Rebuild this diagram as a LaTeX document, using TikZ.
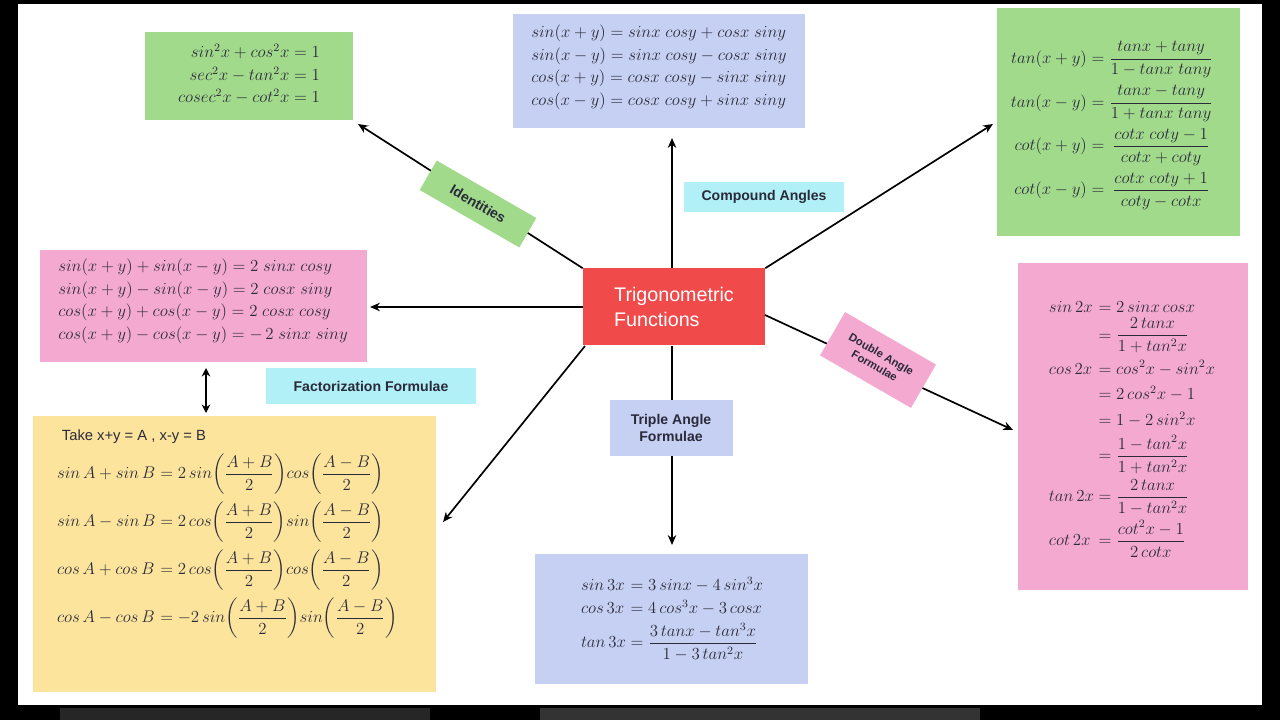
\documentclass[tikz,border=0pt]{standalone}
\usepackage{amsmath}
\usepackage{fontspec}
\setsansfont{Liberation Sans}
\usetikzlibrary{arrows.meta}
\definecolor{gbox}{HTML}{A2DA8C}
\definecolor{bbox}{HTML}{C6D0F2}
\definecolor{pbox}{HTML}{F4A9D0}
\definecolor{ybox}{HTML}{FCE49C}
\definecolor{cbox}{HTML}{B0F0F6}
\definecolor{rbox}{HTML}{F04A4A}
\definecolor{ink}{HTML}{2A2A3A}
\tikzset{
 fbox/.style={inner sep=0pt,outer sep=0pt},
 lab/.style={font=\sffamily\bfseries\fontsize{10}{12}\selectfont,text=ink,align=center},
 conn/.style={-{Stealth[length=7pt,width=6pt]},line width=1.2pt},
 ftxt/.style={font=\fontsize{12}{16}\selectfont,text=ink,align=left},
}
\begin{document}
\begin{tikzpicture}[x=0.025cm,y=-0.025cm]
\useasboundingbox (0,0) rectangle (1280,720);
\fill[black] (0,0) rectangle (1280,720);
\fill[white] (18,4) rectangle (1262,705);
\fill[black!85] (60,708) rectangle (430,720);
\fill[black!80] (540,708) rectangle (980,720);
% boxes
\fill[gbox] (145,32) rectangle (353,120);
\fill[bbox] (513,14) rectangle (805,128);
\fill[gbox] (997,8) rectangle (1240,236);
\fill[pbox] (40,250) rectangle (367,362);
\fill[ybox] (33,416) rectangle (436,692);
\fill[bbox] (535,554) rectangle (808,684);
\fill[pbox] (1018,263) rectangle (1248,590);
\node[fbox,ftxt] (id) at (249,76) {$\begin{array}{@{}r@{}}
sin^2x+cos^2x=1\\ sec^2x-tan^2x=1\\ cosec^2x-cot^2x=1\end{array}$};
\node[fbox,ftxt] (cp) at (659,67) {$\begin{array}{@{}l@{}}
sin(x+y)=sinx\;cosy+cosx\;siny\\
sin(x-y)=sinx\;cosy-cosx\;siny\\
cos(x+y)=cosx\;cosy-sinx\;siny\\
cos(x-y)=cosx\;cosy+sinx\;siny\end{array}$};
\node[fbox,ftxt,font=\fontsize{11.5}{14}\selectfont] (tn) at (1112,122) {$\renewcommand\arraystretch{2.1}\begin{array}{@{}r@{\;}c@{\;}c@{}}
tan(x+y)&=&\dfrac{tanx+tany}{1-tanx\;tany}\\
tan(x-y)&=&\dfrac{tanx-tany}{1+tanx\;tany}\\
cot(x+y)&=&\dfrac{cotx\;coty-1}{cotx+coty}\\
cot(x-y)&=&\dfrac{cotx\;coty+1}{coty-cotx}\end{array}$};
\node[fbox,ftxt] (fz) at (203,301) {$\begin{array}{@{}l@{}}
sin(x+y)+sin(x-y)=2\;sinx\;cosy\\
sin(x+y)-sin(x-y)=2\;cosx\;siny\\
cos(x+y)+cos(x-y)=2\;cosx\;cosy\\
cos(x+y)-cos(x-y)=-\,2\;sinx\;siny\end{array}$};
\node[ftxt,anchor=west,font=\sffamily\fontsize{10.5}{12}\selectfont] (tk) at (57,437) {Take x+y = A , x-y = B};
\node[fbox,ftxt,anchor=north west] (yl) at (57,454) {$\begin{array}{@{}l@{\;}r@{\;}l@{}}
sin\,A+sin\,B&=&2\,sin\!\left(\dfrac{A+B}{2}\right)\!cos\!\left(\dfrac{A-B}{2}\right)\\[12pt]
sin\,A-sin\,B&=&2\,cos\!\left(\dfrac{A+B}{2}\right)\!sin\!\left(\dfrac{A-B}{2}\right)\\[12pt]
cos\,A+cos\,B&=&2\,cos\!\left(\dfrac{A+B}{2}\right)\!cos\!\left(\dfrac{A-B}{2}\right)\\[12pt]
cos\,A-cos\,B&=&-2\,sin\!\left(\dfrac{A+B}{2}\right)\!sin\!\left(\dfrac{A-B}{2}\right)\end{array}$};
\node[fbox,ftxt] (tr) at (672,618) {$\begin{array}{@{}l@{\;}c@{\;}l@{}}
sin\,3x&=&3\,sinx-4\,sin^3x\\
cos\,3x&=&4\,cos^3x-3\,cosx\\[2pt]
tan\,3x&=&\dfrac{3\,tanx-tan^3x}{1-3\,tan^2x}\end{array}$};
\node[fbox,ftxt,font=\fontsize{11.5}{14}\selectfont] (db) at (1132,426) {$\renewcommand\arraystretch{1.3}\begin{array}{@{}l@{\;}c@{\;}l@{}}
sin\,2x&=&2\,sinx\,cosx\\[-2pt]
&=&\dfrac{2\,tanx}{1+tan^2x}\\[6pt]
cos\,2x&=&cos^2x-sin^2x\\
&=&2\,cos^2x-1\\
&=&1-2\,sin^2x\\[2pt]
&=&\dfrac{1-tan^2x}{1+tan^2x}\\[8pt]
tan\,2x&=&\dfrac{2\,tanx}{1-tan^2x}\\[8pt]
cot\,2x&=&\dfrac{cot^2x-1}{2\,cotx}\end{array}$};
% centre
\node[fill=rbox,minimum width=182*0.025cm,minimum height=77*0.025cm,text=white,align=left,
 font=\sffamily\fontsize{14}{18}\selectfont,inner sep=0pt] (c) at (674,307) {Trigonometric\\Functions};
% connectors
\coordinate (eid) at (358,124);
\coordinate (ecp) at (672,138);
\coordinate (etn) at (993,124);
\coordinate (efz) at (370,307);
\coordinate (eyl) at (443,522);
\coordinate (etr) at (672,545);
\coordinate (edb) at (1013,430);
\draw[conn] (c.north west) -- (eid);
\draw[conn] (c.north -| ecp) -- (ecp);
\draw[conn] (c.north east) -- (etn);
\draw[conn] (c.west) -- (efz);
\draw[conn] (585,346) -- (eyl);
\draw[conn] (c.south -| etr) -- (etr);
\draw[conn] (765,315) -- (edb);
\coordinate (d1) at (206,368); \coordinate (d2) at (206,413);
\draw[{Stealth[length=6pt,width=6pt]}-{Stealth[length=6pt,width=6pt]},line width=1.2pt] (d1) -- (d2);
% labels
\node[lab,fill=gbox,rotate=-30,minimum width=115*0.025cm,minimum height=34*0.025cm] (l1) at (478,204) {Identities};
\node[lab,fill=cbox,minimum width=160*0.025cm,minimum height=30*0.025cm] (l2) at (764,197) {Compound Angles};
\node[lab,fill=cbox,minimum width=210*0.025cm,minimum height=36*0.025cm] (l3) at (371,386) {Factorization Formulae};
\node[lab,fill=bbox,minimum width=123*0.025cm,minimum height=56*0.025cm] (l4) at (671,428) {Triple Angle\\Formulae};
\node[lab,fill=pbox,rotate=-30,minimum width=105*0.025cm,minimum height=50*0.025cm,inner sep=1pt,font=\sffamily\bfseries\fontsize{8}{9.5}\selectfont] (l5) at (878,360) {Double Angle\\Formulae};
\end{tikzpicture}
\end{document}
